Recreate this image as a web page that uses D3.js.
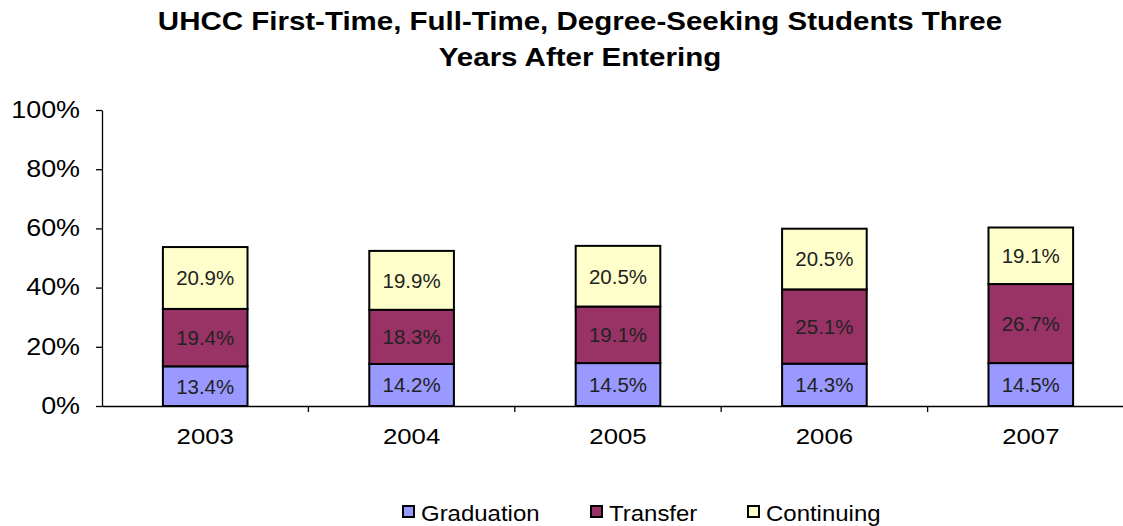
<!DOCTYPE html>
<html>
<head>
<meta charset="utf-8">
<script src="https://cdn.jsdelivr.net/npm/d3@7"></script>
<style>
  body { margin: 0; background: #fff; }
  text { font-family: "Liberation Sans", Arial, sans-serif; }
</style>
</head>
<body>
<svg id="chart" width="1123" height="526"></svg>
<script>
// data
const years = ["2003", "2004", "2005", "2006", "2007"];
const graduation = [13.4, 14.2, 14.5, 14.3, 14.5];
const transfer = [19.4, 18.3, 19.1, 25.1, 26.7];
const continuing = [20.9, 19.9, 20.5, 20.5, 19.1];
const seriesNames = ["Graduation", "Transfer", "Continuing"];
const seriesColors = ["#9999ff", "#993366", "#ffffcc"];
const yTicks = [0, 20, 40, 60, 80, 100];

const svg = d3.select("#chart");

// the original text is a bit wider than Liberation Sans, so stretch it sideways
function stretched(sel, x, y, sx) {
  return sel.attr("x", 0).attr("y", 0)
    .attr("transform", "translate(" + x + "," + y + ") scale(" + sx + ",1)");
}

// build rows for the stack
const rows = years.map(function(y, i) {
  return { year: y, Graduation: graduation[i], Transfer: transfer[i], Continuing: continuing[i] };
});
const stacked = d3.stack().keys(seriesNames)(rows);

const x = d3.scaleBand().domain(years).range([102, 1134]).paddingInner(0.59).paddingOuter(0.295);
const xb = d3.scaleBand().domain(years).range([102, 1134]);
const y = d3.scaleLinear().domain([0, 100]).range([406, 110]);

// title
stretched(svg.append("text"), 580, 30, 1.18)
  .attr("text-anchor", "middle")
  .attr("font-size", 25).attr("font-weight", "bold")
  .text("UHCC First-Time, Full-Time, Degree-Seeking Students Three");
stretched(svg.append("text"), 580, 66, 1.18)
  .attr("text-anchor", "middle")
  .attr("font-size", 25).attr("font-weight", "bold")
  .text("Years After Entering");

// y axis
const yAxis = svg.append("g")
  .attr("transform", "translate(102,0)")
  .call(d3.axisLeft(y).tickValues(yTicks).tickFormat(function(d) { return d + "%"; }).tickSize(6).tickSizeOuter(0));
yAxis.select(".domain").attr("stroke", "#000").attr("stroke-width", 1.3);
yAxis.selectAll(".tick line").attr("stroke", "#000").attr("stroke-width", 1.3);
yAxis.selectAll(".tick text")
  .attr("font-size", 23).attr("fill", "#000")
  .attr("x", -22 / 1.17).attr("transform", "scale(1.17,1)")
  .style("font-family", "'Liberation Sans', Arial, sans-serif");

// bars
const groups = svg.append("g").selectAll("g")
  .data(stacked).enter().append("g")
  .attr("fill", function(d, i) { return seriesColors[i]; });

groups.selectAll("rect")
  .data(function(d) { return d; })
  .enter().append("rect")
  .attr("x", function(d) { return x(d.data.year); })
  .attr("y", function(d) { return y(d[1]); })
  .attr("width", x.bandwidth())
  .attr("height", function(d) { return y(d[0]) - y(d[1]); })
  .attr("stroke", "#000")
  .attr("stroke-width", 2);

// value labels
groups.selectAll("text")
  .data(function(d) { return d; })
  .enter().append("text")
  .attr("x", function(d) { return x(d.data.year) + x.bandwidth() / 2; })
  .attr("y", function(d) { return (y(d[0]) + y(d[1])) / 2; })
  .attr("dy", "0.36em")
  .attr("text-anchor", "middle")
  .attr("font-size", 20.5)
  .attr("fill", "#222")
  .text(function(d) { return (d[1] - d[0]).toFixed(1) + "%"; });

// x axis
const xAxis = svg.append("g")
  .attr("transform", "translate(0,406)")
  .call(d3.axisBottom(xb).tickSize(0).tickPadding(22));
xAxis.select(".domain").attr("stroke", "#000").attr("stroke-width", 1.3);
xAxis.selectAll(".tick text")
  .attr("font-size", 23).attr("fill", "#000")
  .attr("transform", "scale(1.12,1)")
  .style("font-family", "'Liberation Sans', Arial, sans-serif");
// tick marks between categories
xAxis.selectAll(".sep")
  .data(years.slice(1)).enter().append("line")
  .attr("x1", function(d) { return xb(d); }).attr("x2", function(d) { return xb(d); })
  .attr("y1", 0).attr("y2", 6)
  .attr("stroke", "#000").attr("stroke-width", 1.3);

// legend
const legendX = [403, 591, 748];
const legend = svg.append("g").selectAll("g")
  .data(seriesNames).enter().append("g")
  .attr("transform", function(d, i) { return "translate(" + legendX[i] + ",506)"; });
legend.append("rect")
  .attr("width", 11).attr("height", 11)
  .attr("fill", function(d, i) { return seriesColors[i]; })
  .attr("stroke", "#000").attr("stroke-width", 2);
legend.append("text")
  .attr("x", 18 / 1.09).attr("y", 15)
  .attr("transform", "scale(1.09,1)")
  .attr("font-size", 22).attr("fill", "#000")
  .text(function(d) { return d; });
</script>
</body>
</html>
